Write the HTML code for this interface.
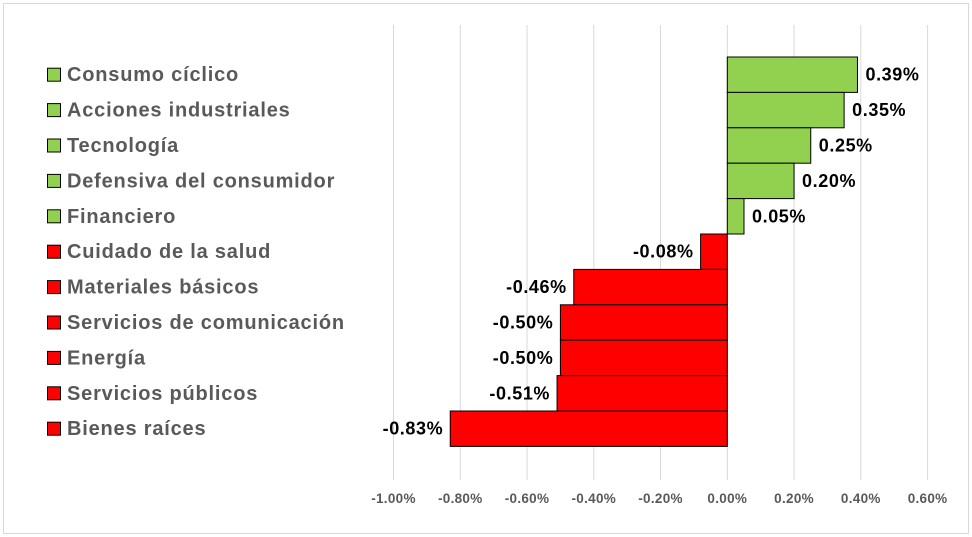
<!DOCTYPE html>
<html><head><meta charset="utf-8"><style>
body{margin:0;background:#fff;}
svg{display:block;font-family:"Liberation Sans",sans-serif;}
</style></head><body>
<svg id="chart" width="972" height="537" xmlns="http://www.w3.org/2000/svg">
<rect x="3.5" y="3.5" width="965" height="530" fill="#fff" stroke="#d9d9d9"/>
<g id="grid"></g><g id="bars"></g><g id="labels"></g><g id="ticks"></g><g id="legend"></g>
</svg>
<script>
const categories=["Consumo cíclico","Acciones industriales","Tecnología","Defensiva del consumidor","Financiero","Cuidado de la salud","Materiales básicos","Servicios de comunicación","Energía","Servicios públicos","Bienes raíces"];
const values=[0.39,0.35,0.25,0.20,0.05,-0.08,-0.46,-0.50,-0.50,-0.51,-0.83];
const tickValues=[-1.0,-0.8,-0.6,-0.4,-0.2,0,0.2,0.4,0.6];
const NS="http://www.w3.org/2000/svg";
const x0=727.3, pxPer=333.8;
const xs=v=>x0+v*pxPer;
const rowTop=57, rowH=35.4;
const ys=i=>rowTop+i*rowH;
function mk(t,a,p){const e=document.createElementNS(NS,t);for(const k in a)e.setAttribute(k,a[k]);p.appendChild(e);return e;}
const g=document.getElementById('grid'),b=document.getElementById('bars'),l=document.getElementById('labels'),tk=document.getElementById('ticks'),lg=document.getElementById('legend');
tickValues.forEach(v=>{
 const ln=mk('line',{x1:xs(v),x2:xs(v),y1:25,y2:480,stroke:'#d9d9d9','stroke-width':1},g);
 
 
 const t=mk('text',{x:xs(v),y:503,'text-anchor':'middle','font-size':13.5,'letter-spacing':0.3,'font-weight':'bold',fill:'#595959'},tk);
 t.textContent=v.toFixed(2)+'%';
 
 
});
values.forEach((v,i)=>{
 const c=v>=0?'#92d050':'#ff0000';
 const x=Math.min(xs(v),x0),w=Math.abs(xs(v)-x0);
 const r=mk('rect',{x:x,y:ys(i),width:w,height:rowH,fill:c,stroke:'#000','stroke-width':1},b);
 
 
 const t=mk('text',{x:v>=0?xs(v)+8:xs(v)-7,y:ys(i)+rowH/2+6,'text-anchor':v>=0?'start':'end','font-size':18,'letter-spacing':0.6,'font-weight':'bold',fill:'#000'},l);
 t.textContent=v.toFixed(2)+'%';
 
 
 const s=mk('rect',{x:47.5,y:ys(i)+rowH/2-6.5,width:13,height:13,fill:c,stroke:'#000','stroke-width':1},lg);
 
 
 const lt=mk('text',{x:67,y:ys(i)+rowH/2+6.5,'font-size':20,'letter-spacing':0.8,'font-weight':'bold',fill:'#595959'},lg);
 lt.textContent=categories[i];
 
 
});
</script>
</body></html>
